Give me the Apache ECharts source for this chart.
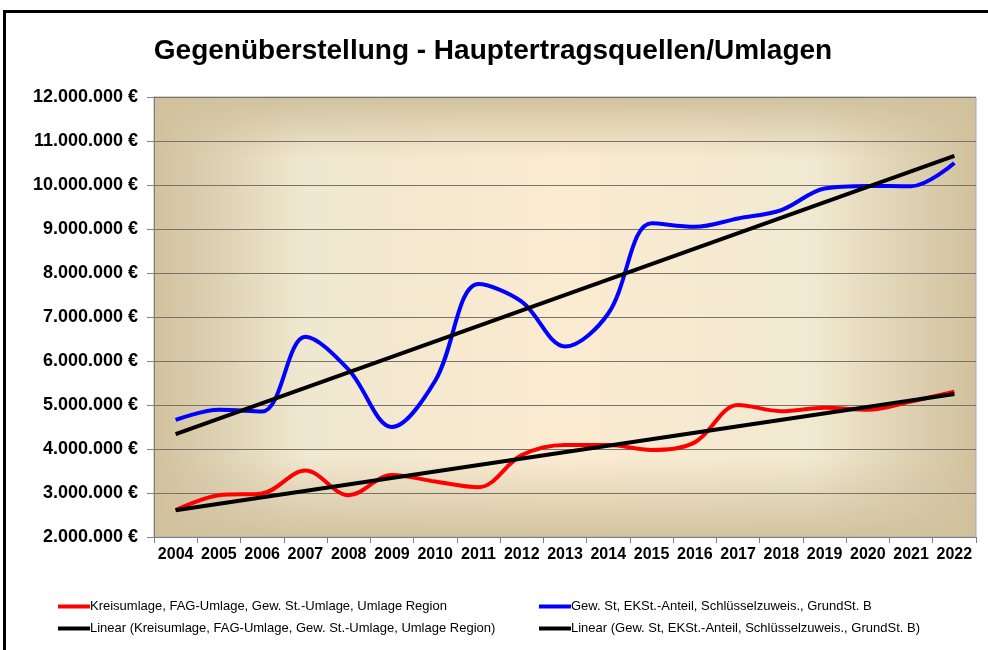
<!DOCTYPE html>
<html>
<head>
<meta charset="utf-8">
<script src="https://cdn.jsdelivr.net/npm/echarts@6/dist/echarts.min.js"></script>
<style>
  html, body { margin: 0; padding: 0; background: #fff; }
  #chart { width: 988px; height: 650px; }
</style>
</head>
<body>
<div id="chart"></div>
<script>
// Jahre
let years = ['2004', '2005', '2006', '2007', '2008', '2009', '2010', '2011', '2012', '2013',
  '2014', '2015', '2016', '2017', '2018', '2019', '2020', '2021', '2022'];

// Werte in Mio. €
let umlagen = [2.61, 2.95, 2.99, 3.51, 2.95, 3.41, 3.26, 3.13, 3.86, 4.09,
  4.09, 3.98, 4.15, 5.00, 4.86, 4.94, 4.89, 5.08, 5.30];
let ertraege = [4.66, 4.89, 4.85, 6.55, 5.80, 4.50, 5.55, 7.75, 7.35, 6.33,
  7.08, 9.13, 9.05, 9.24, 9.43, 9.92, 9.98, 9.97, 10.50];

let trendUmlagen = [2.61, 5.25];
let trendErtraege = [4.34, 10.66];

let yTicks = [2, 3, 4, 5, 6, 7, 8, 9, 10, 11, 12];

let nameRot = 'Kreisumlage, FAG-Umlage, Gew. St.-Umlage, Umlage Region';
let nameBlau = 'Gew. St, EKSt.-Anteil, Schlüsselzuweis., GrundSt. B';
let nameLinRot = 'Linear (Kreisumlage, FAG-Umlage, Gew. St.-Umlage, Umlage Region)';
let nameLinBlau = 'Linear (Gew. St, EKSt.-Anteil, Schlüsselzuweis., GrundSt. B)';

function mio(arr) {
  return arr.map(function (v) { return v * 1000000; });
}

function trend(pair) {
  let d = years.map(function () { return null; });
  d[0] = pair[0] * 1000000;
  d[d.length - 1] = pair[1] * 1000000;
  return d;
}

function euro(v) {
  return String(Math.round(v)).replace(/\B(?=(\d{3})+(?!\d))/g, '.') + ' €';
}

let chartDom = document.getElementById('chart');
let myChart = echarts.init(chartDom);

let plot = { x: 154, y: 97, w: 822, h: 440 };
let font = '"Liberation Sans", Arial, sans-serif';

let legendText = { fontFamily: font, fontSize: 13, color: '#000', padding: [0, 0, 0, -5] };

let option = {
  animation: false,
  backgroundColor: '#fff',
  title: {
    text: 'Gegenüberstellung - Hauptertragsquellen/Umlagen',
    left: 488,
    top: 32,
    textAlign: 'center',
    textStyle: { fontFamily: font, fontSize: 28, fontWeight: 'bold', color: '#000' }
  },
  graphic: [
    {
      type: 'rect',
      z: -10,
      silent: true,
      shape: { x: plot.x, y: plot.y, width: plot.w, height: plot.h },
      style: {
        fill: new echarts.graphic.LinearGradient(0, 0, 1, 0, [
          { offset: 0, color: '#d1c19d' },
          { offset: 0.18, color: '#efe7cf' },
          { offset: 0.5, color: '#fbebd1' },
          { offset: 0.8, color: '#f1e9d1' },
          { offset: 1, color: '#d1c19d' }
        ])
      }
    },
    {
      type: 'rect',
      z: -9,
      silent: true,
      shape: { x: plot.x, y: plot.y, width: plot.w, height: plot.h },
      style: {
        fill: new echarts.graphic.LinearGradient(0, 0, 0, 1, [
          { offset: 0, color: 'rgba(209,193,157,1)' },
          { offset: 0.14, color: 'rgba(209,193,157,0)' },
          { offset: 0.82, color: 'rgba(209,193,157,0)' },
          { offset: 1, color: 'rgba(209,193,157,0.95)' }
        ])
      }
    },
    {
      type: 'rect',
      silent: true,
      shape: { x: 4.5, y: 11.5, width: 1000, height: 700 },
      style: { fill: 'none', stroke: '#000', lineWidth: 3 }
    }
  ],
  grid: {
    left: plot.x,
    top: plot.y,
    width: plot.w,
    height: plot.h,
    show: true,
    backgroundColor: 'transparent',
    borderColor: '#a8a8a8',
    borderWidth: 1
  },
  legend: [
    {
      left: 58,
      top: 600,
      padding: 0,
      orient: 'vertical',
      itemGap: 9,
      itemWidth: 32,
      itemHeight: 4,
      icon: 'rect',
      textStyle: legendText,
      data: [nameRot, nameLinRot]
    },
    {
      left: 539,
      top: 600,
      padding: 0,
      orient: 'vertical',
      itemGap: 9,
      itemWidth: 32,
      itemHeight: 4,
      icon: 'rect',
      textStyle: legendText,
      data: [nameBlau, nameLinBlau]
    }
  ],
  xAxis: {
    type: 'category',
    data: years,
    boundaryGap: true,
    axisLine: { lineStyle: { color: '#808080', width: 1 } },
    axisTick: { show: true, length: 6, lineStyle: { color: '#808080' } },
    axisLabel: { interval: 0, fontFamily: font, fontSize: 16, fontWeight: 'bold', color: '#000', margin: 10 }
  },
  yAxis: {
    type: 'value',
    min: yTicks[0] * 1000000,
    max: yTicks[yTicks.length - 1] * 1000000,
    interval: 1000000,
    axisLine: { show: true, lineStyle: { color: '#808080', width: 1 } },
    axisTick: { show: true, length: 7, lineStyle: { color: '#808080' } },
    splitLine: { lineStyle: { color: '#77736a', width: 1.2 } },
    axisLabel: {
      fontFamily: font, fontSize: 18, fontWeight: 'bold', color: '#000', margin: 16,
      formatter: euro
    }
  },
  series: [
    {
      name: nameRot,
      type: 'line',
      data: mio(umlagen),
      color: '#ff0000',
      smooth: 0.35,
      showSymbol: false,
      lineStyle: { width: 4, color: '#ff0000' },
      z: 3
    },
    {
      name: nameBlau,
      type: 'line',
      data: mio(ertraege),
      color: '#0000ff',
      smooth: 0.35,
      showSymbol: false,
      lineStyle: { width: 4, color: '#0000ff' },
      z: 3
    },
    {
      name: nameLinRot,
      type: 'line',
      data: trend(trendUmlagen),
      connectNulls: true,
      color: '#000',
      showSymbol: false,
      lineStyle: { width: 4, color: '#000' },
      z: 4
    },
    {
      name: nameLinBlau,
      type: 'line',
      data: trend(trendErtraege),
      connectNulls: true,
      color: '#000',
      showSymbol: false,
      lineStyle: { width: 4, color: '#000' },
      z: 4
    }
  ]
};

myChart.setOption(option);
window.addEventListener('resize', () => {
  myChart.resize();
});
</script>
</body>
</html>
